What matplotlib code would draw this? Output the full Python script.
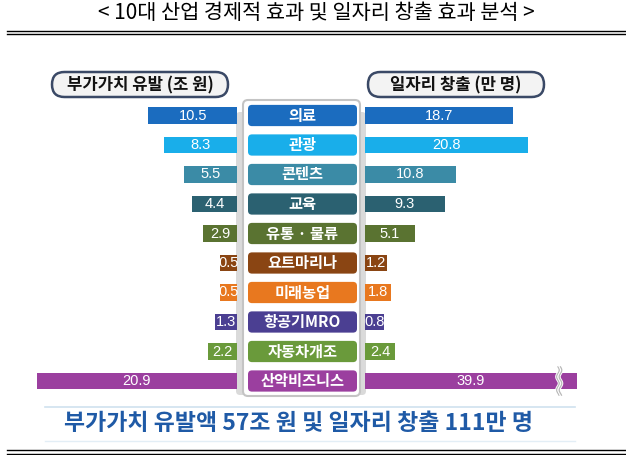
import numpy as np
import matplotlib.pyplot as plt
from matplotlib.patches import FancyBboxPatch

plt.rcParams['font.family'] = ['Noto Sans CJK KR', 'DejaVu Sans']

# data
industries = ['의료', '관광', '콘텐츠', '교육', '유통 · 물류', '요트마리나',
              '미래농업', '항공기MRO', '자동차개조', '산악비즈니스']
value_added = np.array([10.5, 8.3, 5.5, 4.4, 2.9, 0.5, 0.5, 1.3, 2.2, 20.9])   # 조 원
jobs = np.array([18.7, 20.8, 10.8, 9.3, 5.1, 1.2, 1.8, 0.8, 2.4, 39.9])         # 만 명
colors = ['#1b6cbf', '#19aeea', '#3b8ba6', '#2b6171', '#5a7331', '#8a4513',
          '#e8781f', '#4b3f92', '#6a9a3b', '#9b3f9f']

title = '< 10대 산업 경제적 효과 및 일자리 창출 효과 분석 >'
left_head = '부가가치 유발 (조 원)'
right_head = '일자리 창출 (만 명)'
summary = '부가가치 유발액 57조 원 및 일자리 창출 111만 명'

# off-scale bars are drawn broken at these lengths
break_left = 26.0
break_right = 27.6
stub = 1.8          # every bar starts a little behind zero so labels fit
shown_left = np.where(value_added > 20, break_left, value_added)
shown_right = np.where(jobs > 30, break_right, jobs)

W, H = 626, 455
fig = plt.figure(figsize=(6.26, 4.55), dpi=100)

bg = fig.add_axes([0, 0, 1, 1])
bg.set_xlim(0, W)
bg.set_ylim(H, 0)
bg.axis('off')

# title and double rules
bg.text(316, 13, title, ha='center', va='center', fontsize=15, color='black')
for yy in (30.7, 34):
    bg.plot([7, W], [yy, yy], color='black', lw=1.0)
for yy in (450, 453.5):
    bg.plot([7, W], [yy, yy], color='black', lw=1.0)

# header pills
for x0, txt in ((52, left_head), (368, right_head)):
    bg.add_patch(FancyBboxPatch((x0, 72), 176, 25,
                                boxstyle='round,pad=0,rounding_size=12.5',
                                facecolor='#f3f3f3', edgecolor='#3a4966', lw=1.8))
    bg.text(x0 + 88, 85, txt, ha='center', va='center', fontsize=12,
            fontweight='bold', color='#111111')

# centre frame
bg.add_patch(FancyBboxPatch((236, 112), 130, 283,
                            boxstyle='round,pad=0,rounding_size=4',
                            facecolor='#dadada', edgecolor='none'))
bg.add_patch(FancyBboxPatch((243, 100), 117, 296,
                            boxstyle='round,pad=0,rounding_size=5',
                            facecolor='white', edgecolor='#c4c4c4', lw=1.5))

# summary band
bg.plot([45, 575], [407, 407], color='#cfe2ef', lw=1.2)
bg.plot([45, 575], [441, 441], color='#e3eef6', lw=1.0)
bg.text(298, 424, summary, ha='center', va='center', fontsize=16.5,
        fontweight='bold', color='#1f5aa6')

rows = np.arange(len(industries))
top_px, bot_px = 100.75, 395.75


def row_axes(x0, x1):
    ax = fig.add_axes([x0 / W, (H - bot_px) / H, (x1 - x0) / W, (bot_px - top_px) / H])
    ax.set_ylim(len(rows) - 0.5, -0.5)
    ax.axis('off')
    return ax


px_per_unit = 7.2
num_font = ['Liberation Sans', 'DejaVu Sans']

# left bars (value added)
axl = row_axes(30, 237)
axl.set_xlim(-stub + 207 / px_per_unit, -stub)
axl.barh(rows, shown_left + stub, left=-stub, height=0.56, color=colors)
for i, v in enumerate(value_added):
    axl.text((shown_left[i] - stub) / 2, i, f'{v:.1f}', ha='center', va='center',
             color='white', fontsize=10.5, family=num_font)

# right bars (jobs)
axr = row_axes(365, 590)
axr.set_xlim(-stub, -stub + 225 / px_per_unit)
axr.barh(rows, shown_right + stub, left=-stub, height=0.56, color=colors)
for i, v in enumerate(jobs):
    axr.text((shown_right[i] - stub) / 2, i, f'{v:.1f}', ha='center', va='center',
             color='white', fontsize=10.5, family=num_font)

# break mark on the long right bar
i_break = int(np.argmax(jobs))
xb = shown_right[i_break] - 2.6
ys = np.linspace(i_break - 0.48, i_break + 0.48, 40)
for dx in (0, 0.35):
    xs = xb + dx + 0.18 * np.sin((ys - ys[0]) * 14)
    axr.plot(xs, ys, color='white', lw=2.2)
    axr.plot(xs, ys, color='#b8b8b8', lw=0.9)

# centre labels
axc = row_axes(243, 360)
axc.set_xlim(243, 360)
for i, name in enumerate(industries):
    axc.add_patch(FancyBboxPatch((248, i - 0.36), 109, 0.72,
                                 boxstyle='round,pad=0,rounding_size=4',
                                 mutation_aspect=1 / 29.5,
                                 facecolor=colors[i], edgecolor='none'))
    axc.text(302.5, i, name, ha='center', va='center', color='white',
             fontsize=11, fontweight='bold')

fig.savefig('out.png', dpi=100)
